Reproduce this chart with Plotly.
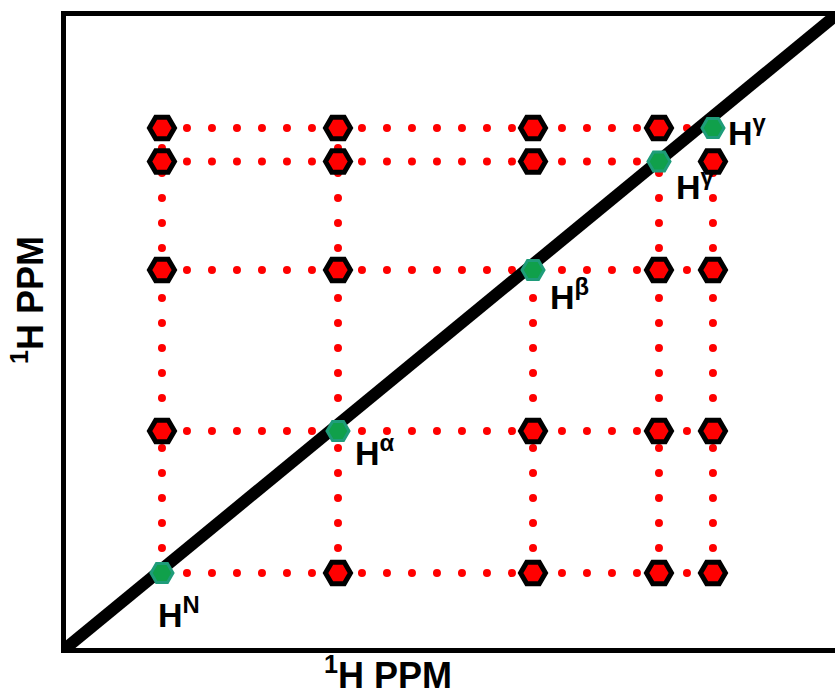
import plotly.graph_objects as go

# ---- data (arbitrary chemical-shift units on a 0-10 scale) ----
col_shift = [1.248, 3.537, 6.073, 7.711, 8.413]   # x positions of the five protons
row_shift = [1.187, 3.434, 5.981, 7.698, 8.228]   # y positions of the five protons
proton_labels = ["H<sup>N</sup>", "H<sup>α</sup>", "H<sup>β</sup>", "H<sup>γ</sup>", "H<sup>γ</sup>"]
diag_x = [0, 10]
diag_y = [0, 10]
# dotted connectivity segments: (row index, from column, to column)
h_segments = [(0, 0, 4), (1, 0, 4), (2, 0, 4), (3, 0, 3), (4, 0, 4)]
# (column index, from row, to row)
v_segments = [(0, 0, 4), (1, 0, 4), (2, 0, 2), (3, 0, 3), (4, 0, 3)]
axis_title = "<sup>1</sup>H PPM"

# ---- label placement (pixels, styling) ----
label_dx = [-4, 17, 17, 17, 15]
label_dy = [44, 24, 28, 27, 7]

hx, hy = [], []
for r, a, b in h_segments:
    hx += [col_shift[a], col_shift[b], None]
    hy += [row_shift[r], row_shift[r], None]
vx, vy = [], []
for c, a, b in v_segments:
    vx += [col_shift[c], col_shift[c], None]
    vy += [row_shift[a], row_shift[b], None]

rx, ry = [], []
for j, yv in enumerate(row_shift):
    for i, xv in enumerate(col_shift):
        if i != j:
            rx.append(xv)
            ry.append(yv)

dot_line = dict(color="#ff0000", width=8, dash="0px,25px")

fig = go.Figure()
fig.add_trace(go.Scatter(x=hx, y=hy, mode="lines", line=dot_line, hoverinfo="skip"))
fig.add_trace(go.Scatter(x=vx, y=vy, mode="lines", line=dot_line, hoverinfo="skip"))
fig.add_trace(go.Scatter(x=diag_x, y=diag_y, mode="lines",
                         line=dict(color="black", width=12), hoverinfo="skip"))
fig.add_trace(go.Scatter(x=rx, y=ry, mode="markers",
                         marker=dict(symbol="hexagon2", size=25, color="#ff0000",
                                     line=dict(color="black", width=5))))
fig.add_trace(go.Scatter(x=col_shift, y=row_shift, mode="markers",
                         marker=dict(symbol="hexagon2", size=22, color="#10a04b",
                                     line=dict(color="#1f9c7a", width=3))))

font_lbl = dict(family="Liberation Sans, Arial, sans-serif", size=34, color="black", weight="bold")
for i, t in enumerate(proton_labels):
    fig.add_annotation(x=col_shift[i], y=row_shift[i], text=t, showarrow=False,
                       xanchor="left", yanchor="middle",
                       xshift=label_dx[i] - 2, yshift=-label_dy[i] + 4, font=font_lbl)

font_title = dict(family="Liberation Sans, Arial, sans-serif", size=36, color="black", weight="bold")
fig.add_annotation(xref="paper", yref="paper", x=(388 - 66) / 769, y=-(698 - 648) / 632,
                   text=axis_title, showarrow=False, xanchor="center", yanchor="bottom",
                   font=font_title)
fig.add_annotation(xref="paper", yref="paper", x=(28 - 66) / 769, y=(648 - 300) / 632,
                   text=axis_title, showarrow=False, xanchor="center", yanchor="middle",
                   textangle=-90, font=font_title)

axis_common = dict(range=[0, 10], showgrid=False, zeroline=False, showticklabels=False,
                   ticks="", showline=True, linewidth=5, linecolor="black", fixedrange=True)
fig.update_layout(
    width=835, height=699,
    margin=dict(l=66, r=0, t=16, b=51, pad=0),
    paper_bgcolor="white", plot_bgcolor="white",
    showlegend=False,
    xaxis=dict(axis_common, mirror=True),
    yaxis=dict(axis_common, mirror=False),
)

post = ("var gd=document.getElementById('{plot_id}');"
        "gd.querySelectorAll('path.js-line').forEach(function(p){"
        "var d=p.style.strokeDasharray||'';"
        "if(d.indexOf('25')>=0){p.style.strokeLinecap='round';}});")
fig.write_html("out.html", config={"displayModeBar": False}, post_script=post)
